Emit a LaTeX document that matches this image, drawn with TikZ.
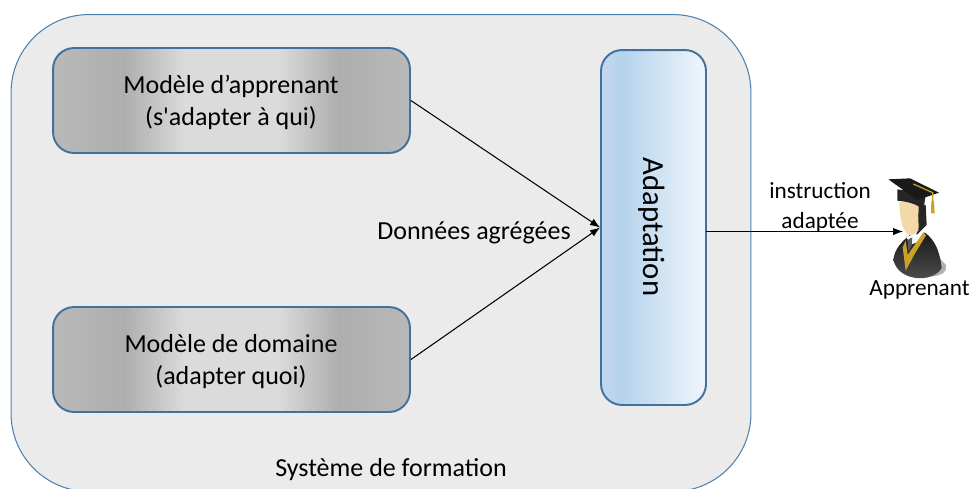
\documentclass[tikz,border=0pt]{standalone}
\usepackage{fontspec}
\usetikzlibrary{arrows.meta}
\setmainfont{Carlito}
\newfontfamily\plainquote{Carlito}
\definecolor{edgeblue}{HTML}{41719C}
\definecolor{paneledge}{HTML}{4F81B0}
\definecolor{panelgray}{HTML}{EBEBEB}
\definecolor{stolegold}{HTML}{C9A227}
\definecolor{skintone}{HTML}{F3D8A8}
\definecolor{metaldark}{HTML}{AEAEAE}
\definecolor{metalmid}{HTML}{B9B9B9}
\definecolor{metallight}{HTML}{DBDBDB}
\definecolor{blueleft}{HTML}{C2D9EF}
\definecolor{bluemid}{HTML}{B5D3EC}
\definecolor{blueright}{HTML}{F0F6FC}
\pgfdeclarehorizontalshading{metalshade}{100bp}{color(0bp)=(metalmid);color(25bp)=(metalmid);color(35bp)=(metaldark);color(43.5bp)=(metallight);color(56.5bp)=(metallight);color(65bp)=(metaldark);color(75bp)=(metalmid);color(100bp)=(metalmid)}
\pgfdeclarehorizontalshading{blueshade}{100bp}{color(0bp)=(blueleft);color(25bp)=(blueleft);color(35bp)=(bluemid);color(75bp)=(blueright);color(100bp)=(blueright)}
\tikzset{
    panel/.style={draw=paneledge,line width=0.6pt,fill=panelgray,rounded corners=1.56cm,minimum width=14.8cm,minimum height=9.54cm},
    modelbox/.style={draw=edgeblue,line width=1.1pt,shading=metalshade,rounded corners=0.42cm,minimum width=7.14cm,minimum height=2.1cm},
    modeltext/.style={align=center,font=\fontsize{14.8}{18.2}\selectfont},
    adaptbox/.style={draw=edgeblue,line width=1.1pt,shading=blueshade,rounded corners=0.42cm,minimum width=2.1cm,minimum height=7.1cm},
    caption/.style={align=center,font=\fontsize{14.8}{18.2}\selectfont},
    smallcaption/.style={align=center,font=\fontsize{13.2}{17}\selectfont},
    link/.style={-{Latex[length=2mm,width=1.5mm]},line width=0.6pt}
}
\begin{document}
\begin{tikzpicture}[x=0.02cm,y=-0.02cm]
    \useasboundingbox (0,0) rectangle (969,488);
    \clip (0,0) rectangle (969,488);
    \node[panel] (sys) at (381,253) {};
    \node[caption] (syslabel) at (391,470) {Système de formation};
    \node[modelbox] (learner) at (231.5,100.5) {};
    \node[modeltext] (learnerlabel) at (231,102.5) {Modèle d’apprenant\\(s{\plainquote\symbol{39}}adapter à qui)};
    \node[modelbox] (domain) at (231.5,359.5) {};
    \node[modeltext] (domainlabel) at (231,361.5) {Modèle de domaine\\(adapter quoi)};
    \node[adaptbox] (adapt) at (653.5,227.5) {};
    \node[rotate=-90,font=\fontsize{17.5}{20}\selectfont] (adaptlabel) at (651.5,227) {Adaptation};
    \node[caption] (datalabel) at (474,233) {Données agrégées};
    \node[smallcaption] (instr) at (820,207) {instruction\\adaptée};
    \node[smallcaption] (student) at (919.5,290) {Apprenant};
    \coordinate (out) at (706,231.5);
    \coordinate (head) at (903,231.5);
    \draw[link] (learner.east) -- (adapt.west);
    \draw[link] (domain.east) -- (adapt.west);
    % figure du diplome
    \begin{scope}[shift={(860,160)},x=0.00667cm,y=-0.00667cm]
        \fill[black!30] (215,350) .. controls (250,345) and (262,335) .. (258,315) -- (235,290) -- cycle;
        \shade[top color=black!90,bottom color=black!70] (100,298) .. controls (105,265) and (125,245) .. (150,225) -- (195,218) .. controls (225,240) and (240,275) .. (245,325) .. controls (225,355) and (180,360) .. (150,350) .. controls (125,342) and (105,325) .. (100,298) -- cycle;
        \fill[white] (140,232) -- (160,222) -- (192,218) -- (175,245) -- (150,255) -- cycle;
        \fill[black!65] (142,240) -- (157,232) -- (155,255) -- (146,275) -- cycle;
        \fill[stolegold] (128,262) -- (137,242) -- (143,285) -- (190,217) -- (198,226) -- (165,280) -- (137,332) -- cycle;
        \fill[black!85] (165,130) -- (197,135) -- (200,195) -- (170,225) -- cycle;
        \fill[skintone] (118,125) .. controls (118,165) and (125,205) .. (142,222) .. controls (150,228) and (165,225) .. (175,212) .. controls (178,195) and (172,170) .. (176,150) -- (175,130) -- cycle;
        \fill[black!85] (112,88) -- (112,122) .. controls (140,125) and (170,130) .. (190,150) -- (198,100) -- cycle;
        \fill[black!90] (85,58) -- (150,55) -- (237,98) -- (172,120) -- cycle;
        \draw[stolegold,line width=0.7pt] (160,72) -- (218,98) -- (218,125);
        \fill[stolegold] (214,122) -- (222,122) -- (224,160) -- (213,160) -- cycle;
    \end{scope}
    \draw[link] (out) -- (head);
\end{tikzpicture}
\end{document}
